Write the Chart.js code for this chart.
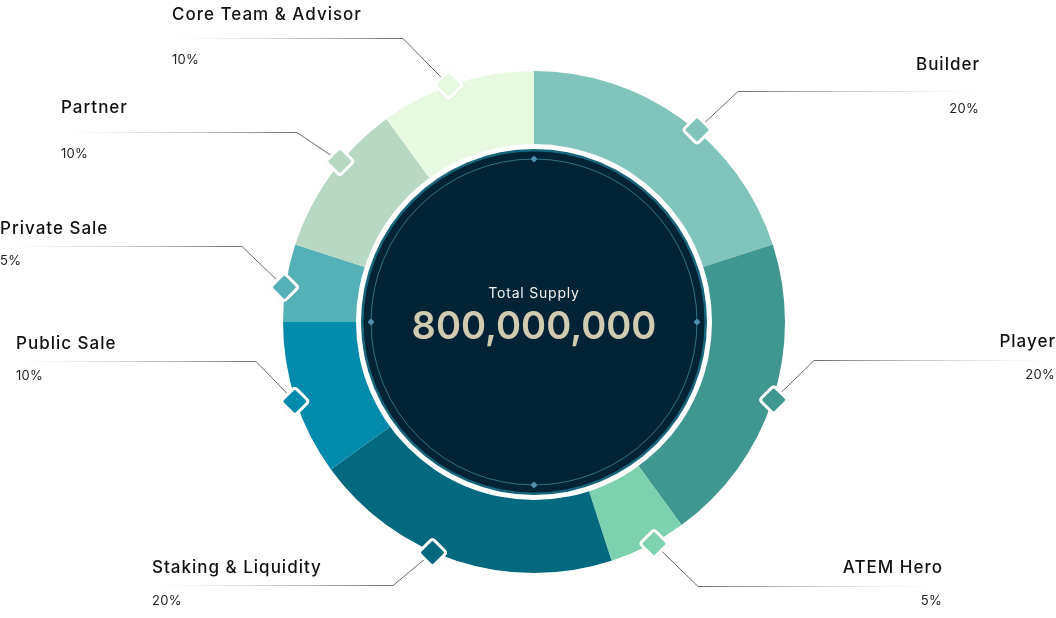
<!DOCTYPE html>
<html>
<head>
<meta charset="utf-8">
<script src="https://cdn.jsdelivr.net/npm/chart.js@4.4.1/dist/chart.umd.min.js"></script>
<style>
html,body{margin:0;padding:0;background:#ffffff;}
#wrap{width:1056px;height:618px;position:relative;}
</style>
</head>
<body>
<div id="wrap"><canvas id="c" width="1056" height="618"></canvas></div>
<script>
const categories = ['Builder','Player','ATEM Hero','Staking & Liquidity','Public Sale','Private Sale','Partner','Core Team & Advisor'];
const shares = [20,20,5,20,10,5,10,10];
const segmentColors = ['#81c4bb','#3f978f','#7dd1ae','#02697f','#038bab','#56b0b8','#b9d8c3','#e8f9e2'];
const centerTitle = 'Total Supply';
const totalSupply = '800,000,000';

// label layout (positions only); markerAt = fraction along the segment arc
const labelLayout = [
  {side:'right', tx:979,  nameY:65,  lineY:91,  pctY:109, elbowX:738, endX:985, markerAt:0.56},
  {side:'right', tx:1055, nameY:342, lineY:360, pctY:375, elbowX:814, endX:1056, markerAt:0.5},
  {side:'right', tx:942,  nameY:568, lineY:586, pctY:601, elbowX:698, endX:940, markerAt:0.42},
  {side:'left',  tx:152,  nameY:568, lineY:585, pctY:601, elbowX:393, endX:150, markerAt:0.58},
  {side:'left',  tx:16,   nameY:344, lineY:361, pctY:376, elbowX:256, endX:12,  markerAt:0.49},
  {side:'left',  tx:0,    nameY:229, lineY:246, pctY:261, elbowX:242, endX:0,   markerAt:0.44},
  {side:'left',  tx:61,   nameY:108, lineY:132, pctY:154, elbowX:297, endX:58,  markerAt:0.6},
  {side:'left',  tx:172,  nameY:15,  lineY:38,  pctY:60,  elbowX:403, endX:168, markerAt:0.45}
];

const FONT = 'Inter, "Open Sans", sans-serif';

function roundedDiamond(ctx, x, y, s, r) {
  ctx.save();
  ctx.translate(x, y);
  ctx.rotate(Math.PI / 4);
  const h = s / 2;
  ctx.beginPath();
  ctx.moveTo(-h + r, -h);
  ctx.lineTo(h - r, -h);
  ctx.quadraticCurveTo(h, -h, h, -h + r);
  ctx.lineTo(h, h - r);
  ctx.quadraticCurveTo(h, h, h - r, h);
  ctx.lineTo(-h + r, h);
  ctx.quadraticCurveTo(-h, h, -h, h - r);
  ctx.lineTo(-h, -h + r);
  ctx.quadraticCurveTo(-h, -h, -h + r, -h);
  ctx.closePath();
  ctx.restore();
}

const overlay = {
  id: 'overlay',
  afterDraw(chart) {
    const ctx = chart.ctx;
    const meta = chart.getDatasetMeta(0);
    const arc0 = meta.data[0];
    const cx = arc0.x, cy = arc0.y;
    const inner = arc0.innerRadius;

    // center disc
    ctx.save();
    ctx.beginPath(); ctx.arc(cx, cy, inner + 1, 0, Math.PI * 2); ctx.fillStyle = '#ffffff'; ctx.fill();
    ctx.beginPath(); ctx.arc(cx, cy, inner - 4, 0, Math.PI * 2); ctx.fillStyle = '#17657c'; ctx.fill();
    ctx.beginPath(); ctx.arc(cx, cy, inner - 6.5, 0, Math.PI * 2); ctx.fillStyle = '#022335'; ctx.fill();
    const rr = inner - 14;
    ctx.beginPath(); ctx.arc(cx, cy, rr, 0, Math.PI * 2); ctx.strokeStyle = '#2f7186'; ctx.lineWidth = 1; ctx.stroke();
    [[0,-1],[1,0],[0,1],[-1,0]].forEach(([dx,dy]) => {
      roundedDiamond(ctx, cx + dx * rr, cy + dy * rr, 5, 1);
      ctx.fillStyle = '#4f8fb0'; ctx.fill();
    });
    ctx.fillStyle = '#eef2f3';
    ctx.font = '400 14px ' + FONT;
    ctx.letterSpacing = '0.8px';
    ctx.textAlign = 'center'; ctx.textBaseline = 'middle';
    ctx.fillText(centerTitle, cx, cy - 28);
    ctx.fillStyle = '#cfcab0';
    ctx.font = '600 38px ' + FONT;
    ctx.letterSpacing = '0px';
    ctx.fillText(totalSupply, cx, cy + 6);
    ctx.restore();

    // leader lines and labels
    meta.data.forEach((arc, i) => {
      const L = labelLayout[i];
      const ang = arc.startAngle + (arc.endAngle - arc.startAngle) * L.markerAt;
      const mr = arc.outerRadius + 1;
      const mx = cx + Math.cos(ang) * mr;
      const my = cy + Math.sin(ang) * mr;

      ctx.save();
      const g = ctx.createLinearGradient(L.elbowX, 0, L.endX, 0);
      g.addColorStop(0, 'rgba(110,110,110,1)');
      g.addColorStop(1, 'rgba(210,210,210,0)');
      ctx.strokeStyle = g; ctx.lineWidth = 1.2;
      ctx.beginPath(); ctx.moveTo(L.elbowX, L.lineY + 0.5); ctx.lineTo(L.endX, L.lineY + 0.5); ctx.stroke();
      ctx.strokeStyle = '#6a6a6a'; ctx.lineWidth = 1;
      ctx.beginPath(); ctx.moveTo(L.elbowX, L.lineY + 0.5); ctx.lineTo(mx, my); ctx.stroke();

      ctx.shadowColor = 'rgba(0,0,0,0.12)'; ctx.shadowBlur = 4;
      roundedDiamond(ctx, mx, my, 20, 3);
      ctx.fillStyle = segmentColors[i]; ctx.fill();
      ctx.shadowBlur = 0;
      ctx.strokeStyle = '#ffffff'; ctx.lineWidth = 3; ctx.stroke();

      ctx.textBaseline = 'middle';
      ctx.textAlign = L.side === 'left' ? 'left' : 'right';
      ctx.fillStyle = '#111111';
      ctx.font = '500 17px ' + FONT;
      ctx.letterSpacing = '1px';
      const nx = L.side === 'left' ? L.tx : L.tx + 1;
      ctx.fillText(categories[i], nx, L.nameY);
      ctx.fillStyle = '#222222';
      ctx.font = '400 13px ' + FONT;
      ctx.letterSpacing = '0.3px';
      ctx.fillText(shares[i] + '%', L.tx, L.pctY);
      ctx.restore();
    });
  }
};

new Chart(document.getElementById('c'), {
  type: 'doughnut',
  data: {
    labels: categories,
    datasets: [{
      data: shares,
      backgroundColor: segmentColors,
      borderWidth: 0,
      hoverOffset: 0
    }]
  },
  options: {
    responsive: false,
    animation: false,
    cutout: 177,
    rotation: 0,
    layout: { padding: { top: 71, bottom: 45, left: 283, right: 271 } },
    plugins: { legend: { display: false }, tooltip: { enabled: false } },
    events: []
  },
  plugins: [overlay]
});
</script>
</body>
</html>
